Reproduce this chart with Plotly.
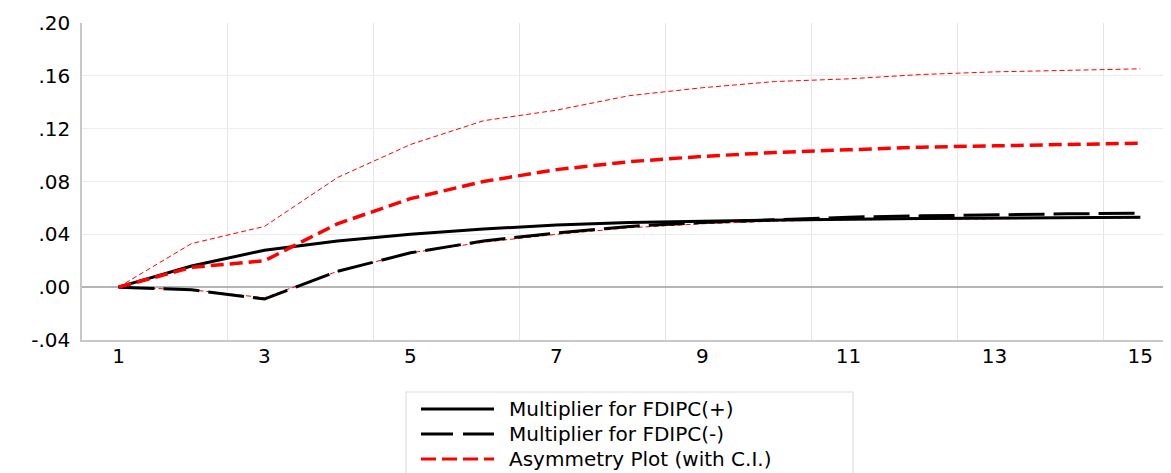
import plotly.graph_objects as go

periods = list(range(1, 16))
mult_pos = [0.000, 0.016, 0.028, 0.035, 0.040, 0.044, 0.047, 0.049, 0.050, 0.051, 0.0515, 0.052, 0.0525, 0.053, 0.053]
mult_neg = [0.000, -0.002, -0.009, 0.012, 0.026, 0.035, 0.041, 0.046, 0.049, 0.051, 0.053, 0.054, 0.055, 0.0555, 0.056]
asym = [0.000, 0.015, 0.020, 0.048, 0.067, 0.080, 0.089, 0.095, 0.099, 0.102, 0.104, 0.106, 0.107, 0.108, 0.109]
ci_upper = [0.000, 0.033, 0.046, 0.083, 0.108, 0.126, 0.134, 0.145, 0.151, 0.1557, 0.1577, 0.161, 0.163, 0.1643, 0.1653]
ci_lower = [0.000, -0.002, -0.008, 0.012, 0.026, 0.034, 0.040, 0.045, 0.048, 0.050, 0.051, 0.0515, 0.052, 0.0525, 0.0525]

y_ticks = [-0.04, 0.00, 0.04, 0.08, 0.12, 0.16, 0.20]
y_labels = ["-.04", ".00", ".04", ".08", ".12", ".16", ".20"]
x_ticks = [1, 3, 5, 7, 9, 11, 13, 15]
x_labels = ["1", "3", "5", "7", "9", "11", "13", "15"]
legend_names = ["Multiplier for FDIPC(+)", "Multiplier for FDIPC(-)", "Asymmetry Plot (with C.I.)"]

FONT = "DejaVu Sans"
OFF = 8  # default page body margin
W, H = 1171 - OFF, 473 - OFF
PLOT_L, PLOT_T, PLOT_B, PLOT_R = 82, 23, 340, 1171  # screen pixels
ML, MT = PLOT_L - OFF, PLOT_T - OFF
MB = H - (PLOT_B - OFF)
MR = W - (PLOT_R - OFF)
pw = PLOT_R - PLOT_L
ph = PLOT_B - PLOT_T

fig = go.Figure()
fig.add_trace(go.Scatter(x=periods, y=ci_upper, mode="lines", line=dict(color="#ff0000", width=1, dash="5px,3px"), showlegend=False))
fig.add_trace(go.Scatter(x=periods, y=ci_lower, mode="lines", line=dict(color="#ff0000", width=1, dash="5px,3px"), showlegend=False))
fig.add_trace(go.Scatter(x=periods, y=mult_pos, mode="lines", line=dict(color="#000000", width=3), showlegend=False))
fig.add_trace(go.Scatter(x=periods, y=mult_neg, mode="lines", line=dict(color="#000000", width=3, dash="36px,9px"), showlegend=False))
fig.add_trace(go.Scatter(x=periods, y=asym, mode="lines", line=dict(color="#ff0000", width=3.5, dash="13px,6px"), showlegend=False))


def px_x(px):
    return (px - PLOT_L) / pw


def px_y(py):
    return (PLOT_B - py) / ph


shapes = []
annotations = []
# legend box
shapes.append(dict(type="rect", xref="paper", yref="paper", x0=px_x(406), x1=px_x(853), y0=px_y(480), y1=px_y(392),
                   line=dict(color="#d9d9d9", width=1), fillcolor="white", layer="above"))
rows = [409, 434, 459]
styles = [dict(color="#000000", width=3), dict(color="#000000", width=3, dash="32px,10px"),
          dict(color="#ff0000", width=3, dash="15px,6px")]
for name, ry, st in zip(legend_names, rows, styles):
    shapes.append(dict(type="line", xref="paper", yref="paper", x0=px_x(421), x1=px_x(494), y0=px_y(ry), y1=px_y(ry),
                       line=st, layer="above"))
    annotations.append(dict(xref="paper", yref="paper", x=px_x(507), y=px_y(ry), text=name, showarrow=False,
                            xanchor="left", yanchor="middle", font=dict(family=FONT, size=20, color="#000000")))

fig.update_layout(
    width=W, height=H,
    margin=dict(l=ML, r=MR, t=MT, b=MB, autoexpand=False),
    paper_bgcolor="white", plot_bgcolor="white",
    shapes=shapes, annotations=annotations,
    showlegend=False,
    xaxis=dict(range=[0.5, 15.42], tickvals=x_ticks, ticktext=x_labels, showgrid=False, automargin=False,
               minor=dict(tick0=0.5, dtick=2, showgrid=True, gridcolor="#e6e6e6", gridwidth=1, ticks=""),
               showline=True, linecolor="#c8c8c8", linewidth=1.5, zeroline=False,
               tickfont=dict(family=FONT, size=20, color="#000000"), ticks="", ticklabelstandoff=-3),
    yaxis=dict(range=[-0.04, 0.20], tickvals=y_ticks, ticktext=y_labels, showgrid=True, gridcolor="#ececec", gridwidth=1,
               zeroline=True, zerolinecolor="#b4b4b4", zerolinewidth=1.5, automargin=False,
               showline=True, linecolor="#c8c8c8", linewidth=1.5,
               tickfont=dict(family=FONT, size=20, color="#000000"), ticks="", ticklabelstandoff=6),
)

fig.write_html("out.html")
